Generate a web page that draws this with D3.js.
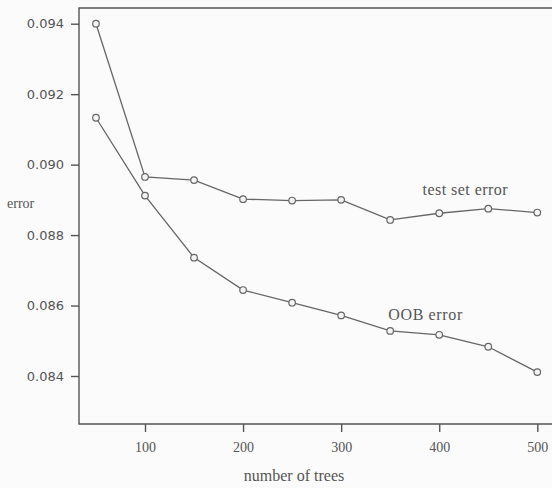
<!DOCTYPE html>
<meta charset="utf-8" />
<style>
  body {
    margin: 0;
    background: #fbfbfb;
  }

  .series path {
    fill: none;
    stroke: #666;
    stroke-width: 1.3px;
  }

  .series circle {
    fill: #f4f4f4;
    stroke: #666;
    stroke-width: 1.2px;
  }

  .axis path,
  .axis line {
    stroke: #555;
    stroke-width: 1.4px;
  }

  .axis text {
    fill: #555;
  }

  .y text {
    font-family: "DejaVu Sans", sans-serif;
    font-size: 13px;
  }

  .x text,
  .label {
    font-family: "Liberation Serif", serif;
    fill: #555;
  }
</style>
<svg width="552" height="488"></svg>
<script src="https://d3js.org/d3.v7.min.js"></script>
<script>
  var trees = [50, 100, 150, 200, 250, 300, 350, 400, 450, 500];
  var testError = [0.094, 0.08965, 0.08956, 0.08902, 0.08898, 0.089, 0.08843, 0.08862, 0.08875, 0.08864];
  var oobError = [0.09133, 0.08912, 0.08736, 0.08644, 0.08608, 0.08572, 0.08528, 0.08517, 0.08483, 0.08411];
  var xTicks = [100, 200, 300, 400, 500];
  var yTicks = [0.084, 0.086, 0.088, 0.09, 0.092, 0.094];

  var svg = d3.select("svg");

  // frame edges in pixels
  var frameL = 79, frameT = 8, frameB = 424, frameR = 570;

  var x = d3.scaleLinear().domain([100, 500]).range([145, 537.3]);
  var y = d3.scaleLinear().domain([0.084, 0.094]).range([376, 23.7]);

  // frame (right side runs off the picture)
  svg.append("path")
    .attr("d", "M" + frameR + "," + frameT + "H" + frameL + "V" + frameB + "H" + frameR)
    .attr("fill", "none")
    .attr("stroke", "#555")
    .attr("stroke-width", 1.4);

  svg.append("g")
    .attr("class", "axis y")
    .attr("transform", "translate(" + frameL + ",0)")
    .call(d3.axisLeft(y).tickValues(yTicks).tickFormat(d3.format(".3f")).tickSize(8).tickPadding(7))
    .call(function (g) { g.select(".domain").remove(); });

  svg.append("g")
    .attr("class", "axis x")
    .attr("transform", "translate(0," + frameB + ")")
    .call(d3.axisBottom(x).tickValues(xTicks).tickFormat(d3.format("d")).tickSize(8).tickPadding(10))
    .call(function (g) {
      g.select(".domain").remove();
      g.selectAll("text").style("font-size", "14px");
    });

  var line = d3.line()
    .x(function (d) { return x(d[0]); })
    .y(function (d) { return y(d[1]); });

  [testError, oobError].forEach(function (vals) {
    var pts = trees.map(function (t, i) { return [t, vals[i]]; });
    var g = svg.append("g").attr("class", "series");
    g.append("path").attr("d", line(pts));
    g.selectAll("circle")
      .data(pts)
      .enter()
      .append("circle")
      .attr("cx", function (d) { return x(d[0]); })
      .attr("cy", function (d) { return y(d[1]); })
      .attr("r", 3.3);
  });

  svg.append("text").attr("class", "label")
    .attr("x", x(383)).attr("y", y(0.08914))
    .style("font-size", "16px")
    .attr("textLength", 85)
    .text("test set error");

  svg.append("text").attr("class", "label")
    .attr("x", x(348)).attr("y", y(0.08559))
    .style("font-size", "16px")
    .attr("textLength", 74)
    .text("OOB error");

  svg.append("text").attr("class", "label")
    .attr("x", 7).attr("y", 208)
    .style("font-size", "14px")
    .text("error");

  svg.append("text").attr("class", "label")
    .attr("x", 294).attr("y", 481)
    .attr("text-anchor", "middle")
    .style("font-size", "16px")
    .text("number of trees");
</script>
